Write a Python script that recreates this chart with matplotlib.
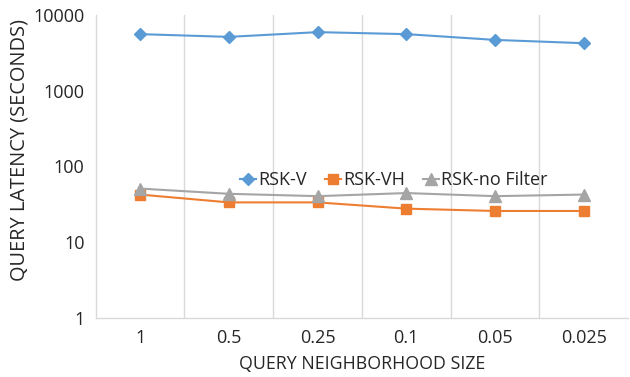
import numpy as np
import matplotlib.pyplot as plt
from matplotlib.ticker import FixedLocator, NullFormatter

plt.rcParams["font.family"] = ["Open Sans", "DejaVu Sans"]

sizes = ["1", "0.5", "0.25", "0.1", "0.05", "0.025"]
rsk_v = [5600, 5150, 5950, 5600, 4700, 4250]
rsk_vh = [42.5, 33.5, 33.5, 27.7, 25.8, 25.8]
rsk_nofilter = [51, 43.5, 40.5, 44.5, 40.5, 42.5]

grid_color = "#D9D9D9"
text_color = "#262626"

fig = plt.figure(figsize=(6.3, 3.77), dpi=100)
ax = fig.add_axes([0.152, 0.157, 0.845, 0.803])

x = np.arange(len(sizes))
ax.plot(x, rsk_v, color="#5B9BD5", marker="D", markersize=6.5, linewidth=1.5, label="RSK-V")
ax.plot(x, rsk_vh, color="#ED7D31", marker="s", markersize=7, linewidth=1.5, label="RSK-VH")
ax.plot(x, rsk_nofilter, color="#A5A5A5", marker="^", markersize=9, linewidth=1.5, label="RSK-no Filter")

ax.set_yscale("log")
ax.set_ylim(1, 10000)
ax.set_yticks([1, 10, 100, 1000, 10000])
ax.set_yticklabels(["1", "10", "100", "1000", "10000"])
ax.yaxis.set_minor_formatter(NullFormatter())
ax.yaxis.set_minor_locator(FixedLocator([]))

ax.set_xlim(-0.5, len(sizes) - 0.5)
ax.set_xticks(x)
ax.set_xticklabels(sizes)
ax.xaxis.set_minor_locator(FixedLocator(np.arange(0.5, len(sizes) - 0.5, 1)))
ax.grid(which="minor", axis="x", color=grid_color, linewidth=1)
ax.tick_params(which="both", length=0, labelsize=13, colors=text_color, pad=8)

for side in ["top", "right"]:
    ax.spines[side].set_visible(False)
for side in ["left", "bottom"]:
    ax.spines[side].set_color(grid_color)
    ax.spines[side].set_linewidth(1)

ax.set_xlabel("QUERY NEIGHBORHOOD SIZE", fontsize=12.8, color=text_color, labelpad=6)
ax.set_ylabel("QUERY LATENCY (SECONDS)", fontsize=14.4, color=text_color)
ax.yaxis.set_label_coords(-0.124, 0.555)

ax.legend(loc="center", bbox_to_anchor=(0.56, 0.455), ncol=3, frameon=False, fontsize=13,
          handlelength=0.9, handletextpad=0.1, columnspacing=1.0, labelcolor=text_color)

fig.savefig("out.png", dpi=100)
